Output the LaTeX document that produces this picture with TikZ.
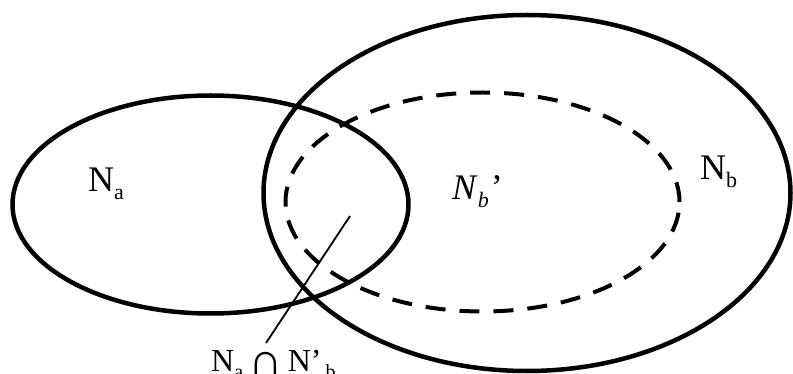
\documentclass[tikz,border=0pt]{standalone}
\usepackage{fontspec}
\setmainfont{Liberation Serif}
\usetikzlibrary{shapes.geometric}
\newcommand{\bigtxt}{\fontsize{36}{40}\selectfont}
\newcommand{\midtxt}{\fontsize{32}{36}\selectfont}
\newcommand{\subtxt}[1]{\raisebox{-8pt}{\fontsize{22}{24}\selectfont #1}}
\newcommand{\submid}[1]{\raisebox{-7pt}{\fontsize{20}{22}\selectfont #1}}
\tikzset{
  set/.style={ellipse, draw, line width=4.5pt, inner sep=0pt},
  subset/.style={ellipse, draw, line width=4pt, dash pattern=on 20pt off 14pt, inner sep=0pt},
  lbl/.style={inner sep=0pt, font=\bigtxt},
  pointer/.style={line width=1.8pt}
}
\begin{document}
\begin{tikzpicture}[x=1pt,y=-1pt]
\useasboundingbox (0,0) rectangle (793,374);
\node[set, minimum width=396pt, minimum height=218pt] (na) at (210.5,204.5) {};
\node[set, minimum width=527pt, minimum height=356pt] (nb) at (527,193) {};
\node[subset, minimum width=394pt, minimum height=219pt] (nbp) at (482.5,202) {};
\node[lbl, anchor=base west] (tna) at (88,192) {N\subtxt{a}};
\node[lbl, anchor=base west] (tnb) at (700,180) {N\subtxt{b}};
\node[lbl, anchor=base west] (tnbp) at (452,200) {\textit{N}\subtxt{\textit{b}}\hspace{2pt}’};
\node[lbl, font=\midtxt, anchor=base west] (tint) at (211,371)
  {N\submid{a}\hspace{5pt}\raisebox{-5pt}{\fontsize{48}{50}\selectfont ∩}\hspace{5pt}N’\hspace{4pt}\submid{b}};
\coordinate (p) at (350,216);
\coordinate (q) at (266,343);
\draw[pointer] (p) -- (q);
\end{tikzpicture}
\end{document}
